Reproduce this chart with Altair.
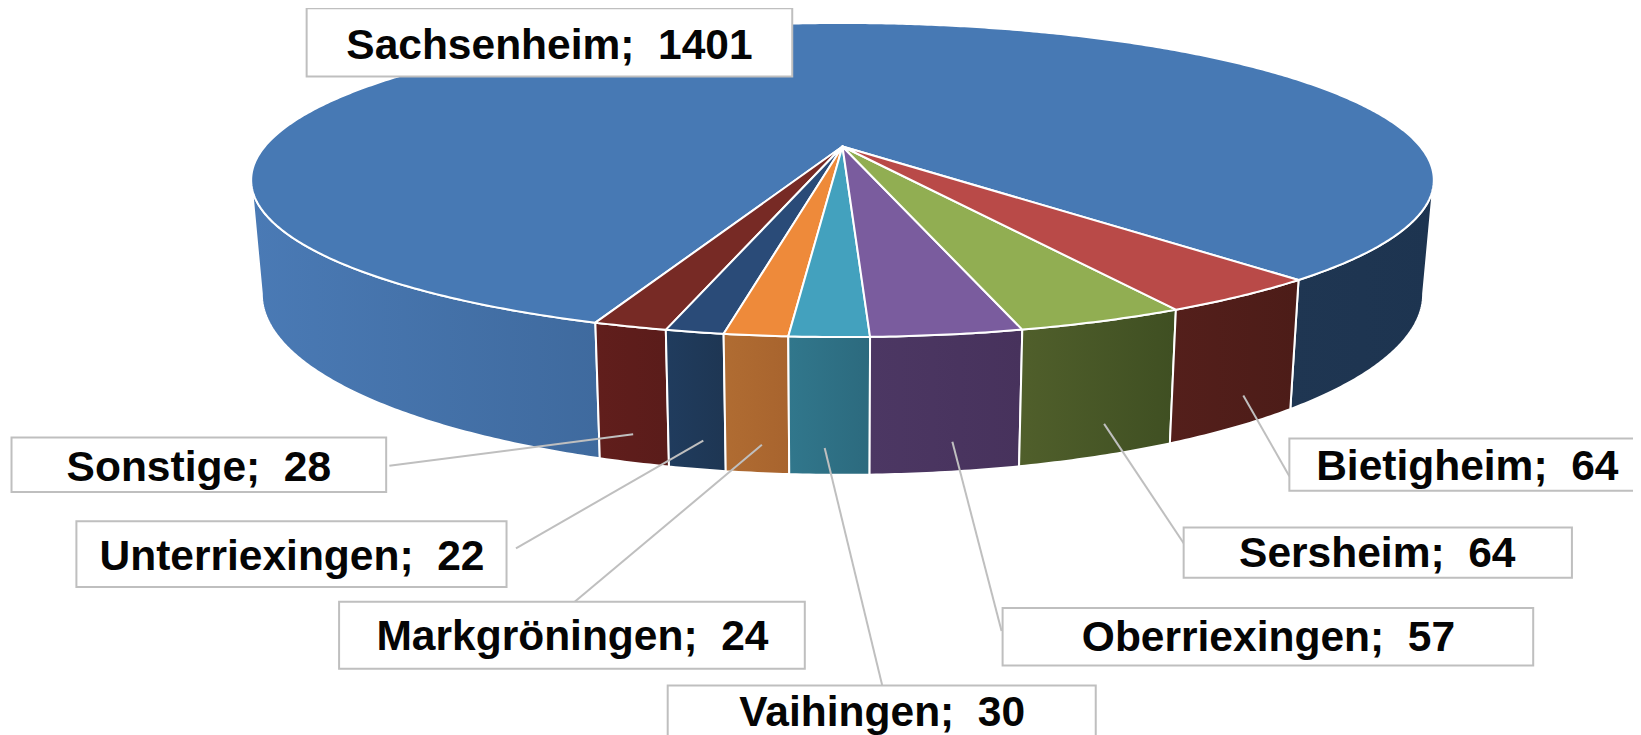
import math
import altair as alt
import pandas as pd

# ---- chart values ----
names = ["Sonstige", "Unterriexingen", "Markgröningen", "Vaihingen",
         "Oberriexingen", "Sersheim", "Bietigheim", "Sachsenheim"]
values = [28, 22, 24, 30, 57, 64, 64, 1401]

# ---- styles ----
top_colors = ["#772A25", "#2A4B78", "#EE8A3A", "#43A1BE",
              "#7A5C9E", "#91AE52", "#B94A48", "#4779B4"]
wall_colors = [("#611E1C", "#5A1C1A"), ("#203C5E", "#1E3653"), ("#B06C32", "#A8642E"),
               ("#31778C", "#2C6A7E"), ("#4C3763", "#47325C"), ("#505F2B", "#3F4F22"),
               ("#541F1B", "#4C1C18")]
blue_wall_left = ("#4A7AB5", "#3F6A9E")
blue_wall_right = ("#1F3652", "#1D3450")

# ---- layout: perspective pie in page pixels minus the 8px page margin ----
S = 1641 / 1568
OFF = 8
CX, CY_TOP = 805 * S - OFF, 140 * S - OFF
A_TOP, B_TOP = 552 * S, 143.2 * S
A_LOW, CY_LOW, B_LOW = 552 * S * 0.982, 244 * S - OFF, 165 * S
K = 0.2133
START_DEG = -20.0
SIDE_DEG = 77.7


def top_pt(deg):
    a = math.radians(deg)
    d = 1 - K * math.cos(a)
    return [CX + A_TOP * math.sin(a) / d, CY_TOP + B_TOP * math.cos(a) / d]


def low_pt(deg):
    a = math.radians(deg)
    d = 1 - K * math.cos(a)
    return [CX + A_LOW * math.sin(a) / d, CY_LOW + B_LOW * math.cos(a) / d]


def arc(fn, a0, a1):
    n = max(2, int(abs(a1 - a0) * 2) + 1)
    return [fn(a0 + (a1 - a0) * i / (n - 1)) for i in range(n)]


def feature(ring, **props):
    ring = ring + [ring[0]]
    return {"type": "Feature", "properties": props,
            "geometry": {"type": "Polygon", "coordinates": [ring]}}


total = sum(values)
edges = [START_DEG]
for v in values:
    edges.append(edges[-1] + 360 * v / total)


def wall(a0, a1, colors):
    ring = arc(top_pt, a0, a1) + arc(low_pt, a1, a0)
    grad = alt.Gradient(gradient="linear", x1=0, y1=0, x2=1, y2=0,
                        stops=[alt.GradientStop(color=colors[0], offset=0),
                               alt.GradientStop(color=colors[1], offset=1)])
    return alt.Chart(alt.Data(values=[feature(ring)])).mark_geoshape(
        fill=grad, stroke="#FFFFFF", strokeWidth=2, strokeJoin="round"
    )


projection = dict(type="identity", scale=1, translate=[0, 0])

walls = [wall(-SIDE_DEG, edges[0], blue_wall_left),
         wall(edges[7], SIDE_DEG, blue_wall_right)]
for i in range(7):
    walls.append(wall(edges[i], edges[i + 1], wall_colors[i]))

top_features = []
for i in [7, 0, 1, 2, 3, 4, 5, 6]:
    ring = [[CX, CY_TOP]] + arc(top_pt, edges[i], edges[i + 1])
    top_features.append(feature(ring, name=names[i]))

tops = alt.Chart(alt.Data(values=top_features)).mark_geoshape(
    stroke="#FFFFFF", strokeWidth=2, strokeJoin="round"
).encode(
    color=alt.Color("properties.name:N",
                    scale=alt.Scale(domain=names, range=top_colors), legend=None)
)

# label boxes, text anchors and leader lines (measured in the 1568-wide view)
boxes = {
    "Sonstige": (11, 369, 418, 470, 190, 447, 372, 445, 605, 415),
    "Unterriexingen": (73, 484, 498, 561, 279, 532, 493, 524, 672, 421),
    "Markgröningen": (324, 769, 575, 639, 547, 609, 548, 576, 728, 425),
    "Vaihingen": (638, 1047, 655, 720, 843, 681, 843, 655, 788, 428),
    "Oberriexingen": (958, 1465, 581, 636, 1212, 610, 957, 603, 910, 422),
    "Sersheim": (1131, 1502, 504, 552, 1316, 529, 1135, 525, 1055, 405),
    "Bietigheim": (1232, 1590, 419, 469, 1402, 446, 1232, 455, 1188, 378),
    "Sachsenheim": (293, 757, 8, 73, 525, 44, None, None, None, None),
}

rows = []
for n, v in zip(names, values):
    b = boxes[n]
    p = lambda t: (t * S - OFF) if t is not None else None
    rows.append(dict(label=f"{n};\u00a0 {v}", x0=p(b[0]), x1=p(b[1]), y0=p(b[2]), y1=p(b[3]),
                     tx=p(b[4]), ty=p(b[5]), lx0=p(b[6]), ly0=p(b[7]), lx1=p(b[8]), ly1=p(b[9])))
df = pd.DataFrame(rows)

X = lambda f: alt.X(f, type="quantitative", scale=None, axis=None)
Y = lambda f: alt.Y(f, type="quantitative", scale=None, axis=None)

leaders = alt.Chart(df[df.lx0.notna()]).mark_rule(color="#BFBFBF", strokeWidth=2).encode(
    x=X("lx0"), x2="lx1", y=Y("ly0"), y2="ly1"
)
rects = alt.Chart(df).mark_rect(fill="#FFFFFF", stroke="#BFBFBF", strokeWidth=2).encode(
    x=X("x0"), x2="x1", y=Y("y0"), y2="y1"
)
texts = alt.Chart(df).mark_text(
    font="Liberation Sans", fontWeight="bold", fontSize=42.5, color="#050505",
    align="center", baseline="middle"
).encode(x=X("tx"), y=Y("ty"), text="label:N")

chart = alt.layer(*walls, tops, leaders, rects, texts).project(**projection).properties(
    width=1625, height=727, padding=0,
    autosize=alt.AutoSizeParams(type="none"),
    background="#FFFFFF",
).configure_view(stroke=None)

chart.save("out.html", embed_options={"renderer": "svg", "actions": False})
